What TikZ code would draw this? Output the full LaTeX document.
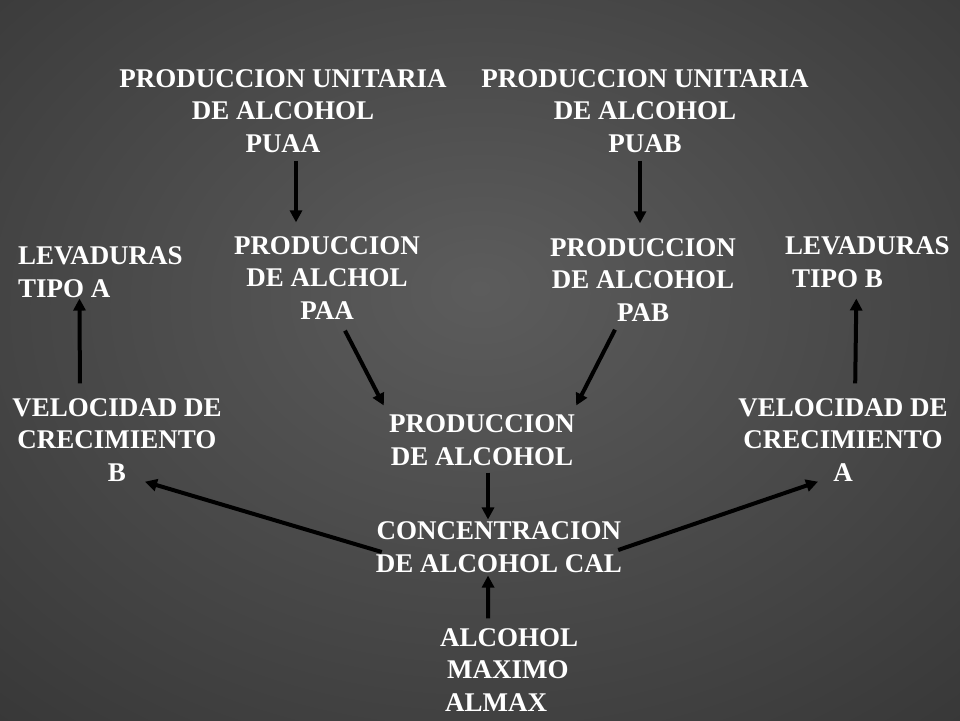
\documentclass[tikz,border=0pt]{standalone}
\usepackage{fontspec}
\setmainfont{Liberation Serif}
\usetikzlibrary{arrows.meta}
\definecolor{bgin}{HTML}{5C5C5C}
\definecolor{bgout}{HTML}{2C2C2C}
\pgfdeclareradialshading{slidebg}{\pgfpoint{0bp}{5bp}}{color(0bp)=(bgin); color(50bp)=(bgout); color(80bp)=(bgout)}

\begin{document}
\begin{tikzpicture}[x = 1pt, y = -1pt, font = \bfseries\fontsize{27}{32.5}\selectfont]
	\tikzstyle{labelStyle} = [text = white, inner sep = 0pt, align = center]
	\tikzstyle{leftStyle} = [text = white, inner sep = 0pt, align = left, anchor = west]
	\tikzstyle{arrowStyle} = [draw = black, line width = 4pt, -{Triangle[length = 12pt, width = 12pt]}]
	\useasboundingbox (0,0) rectangle (960,720);
	\shade[shading = slidebg] (0,0) rectangle (960,720);
	% top row
	\node[labelStyle] (puaa) at (283, 111) {PRODUCCION UNITARIA\\DE ALCOHOL\\PUAA};
	\node[labelStyle] (puab) at (645, 111) {PRODUCCION UNITARIA\\DE ALCOHOL\\PUAB};
	% second row
	\node[leftStyle] (leva) at (18, 272) {LEVADURAS\\TIPO A};
	\node[labelStyle] (paa) at (327, 278) {PRODUCCION\\DE ALCHOL\\PAA};
	\node[labelStyle] (pab) at (643, 280) {PRODUCCION\\DE ALCOHOL\\PAB};
	\node[leftStyle] (levb) at (785, 262) {LEVADURAS\\\hspace{7pt}TIPO B};
	% third row
	\node[labelStyle] (velb) at (117, 440) {VELOCIDAD DE\\CRECIMIENTO\\B};
	\node[labelStyle] (prod) at (482, 440) {PRODUCCION\\DE ALCOHOL};
	\node[labelStyle] (vela) at (843, 440) {VELOCIDAD DE\\CRECIMIENTO\\A};
	% bottom
	\node[labelStyle] (cal) at (499, 547) {CONCENTRACION\\DE ALCOHOL CAL};
	\node[leftStyle] (almax) at (440, 670) {ALCOHOL\\\hspace{7pt}MAXIMO\\\hspace{5pt}ALMAX};
	% arrows
	\draw[arrowStyle, shorten < = 8pt, shorten > = 14pt] ([xshift = 13pt]puaa.south) -- ([xshift = -31pt]paa.north);
	\draw[arrowStyle, shorten < = 8pt, shorten > = 15pt] ([xshift = -5pt]puab.south) -- ([xshift = -3pt]pab.north);
	\draw[arrowStyle, shorten < = 15pt, shorten > = 1pt] ([xshift = -37pt]velb.north) -- ([xshift = -21pt]leva.south);
	\draw[arrowStyle, shorten < = 15pt, shorten > = 11pt] ([xshift = 12pt]vela.north) -- ([xshift = -11pt]levb.south);
	\draw[arrowStyle] ([xshift = 18pt, yshift = -11pt]paa.south) -- ([xshift = -5pt, yshift = 9pt]prod.north west);
	\draw[arrowStyle] ([xshift = -28pt, yshift = -8pt]pab.south) -- ([xshift = 1pt, yshift = 9pt]prod.north east);
	\draw[arrowStyle, shorten < = 7pt, shorten > = 2pt] ([xshift = 6pt]prod.south) -- ([xshift = -11pt]cal.north);
	\draw[arrowStyle, shorten < = 10pt, shorten > = 3pt] ([xshift = -21pt]almax.north) -- ([xshift = -11pt]cal.south);
	\draw[arrowStyle] ([xshift = 6pt, yshift = -5pt]cal.west) -- ([xshift = 28pt]velb.south);
	\draw[arrowStyle] ([xshift = -4pt, yshift = -3pt]cal.east) -- ([xshift = -25pt]vela.south);
\end{tikzpicture}
\end{document}
